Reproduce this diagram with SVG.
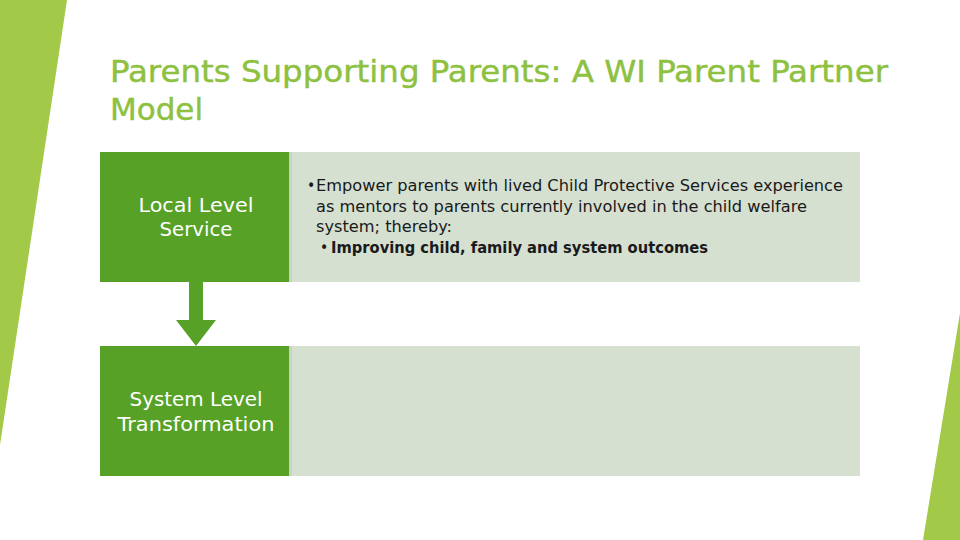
<svg xmlns="http://www.w3.org/2000/svg" width="960" height="540" viewBox="0 0 960 540">
<style>
.title{font-family:"DejaVu Sans Condensed","DejaVu Sans",sans-serif;font-size:31px;fill:#8DC13F;stroke:#8DC13F;stroke-width:0.4}
.lbl{font-family:"DejaVu Sans",sans-serif;font-size:19px;fill:#FFFFFF;text-anchor:middle}
.body{font-family:"DejaVu Sans Condensed","DejaVu Sans",sans-serif;font-size:15.5px;fill:#1A1A1A}
.green{fill:#57A127}
.light{fill:#D5E0D1}
.edge{fill:#C9D4C5}
</style>
<rect width="960" height="540" fill="#FFFFFF"/>
<polygon points="0,0 67,0 0,445" fill="#A2C947"/>
<polygon points="960,313 960,540 923,540" fill="#A2C947"/>
<text class="title" x="110" y="82" textLength="778" lengthAdjust="spacingAndGlyphs">Parents Supporting Parents: A WI Parent Partner</text>
<text class="title" x="110" y="120" textLength="93" lengthAdjust="spacingAndGlyphs">Model</text>
<g id="connectors">
<polygon class="green" points="189,282 203,282 203,320 216,320 196,346 176,320 189,320"/>
</g>
<g id="detail1">
<rect class="light" x="289" y="152" width="571" height="130"/>
<rect class="edge" x="289" y="152" width="3" height="130"/>
<text class="body" x="307" y="191">•</text>
<text class="body" x="316" y="191" textLength="527" lengthAdjust="spacingAndGlyphs">Empower parents with lived Child Protective Services experience</text>
<text class="body" x="316" y="212" textLength="491" lengthAdjust="spacingAndGlyphs">as mentors to parents currently involved in the child welfare</text>
<text class="body" x="316" y="232" textLength="136" lengthAdjust="spacingAndGlyphs">system; thereby:</text>
<text class="body" x="320" y="253">•</text>
<text class="body" x="331" y="253" font-weight="bold" textLength="377" lengthAdjust="spacingAndGlyphs">Improving child, family and system outcomes</text>
</g>
<g id="detail2">
<rect class="light" x="289" y="346" width="571" height="130"/>
<rect class="edge" x="289" y="346" width="3" height="130"/>
</g>
<g id="local">
<rect class="green" x="100" y="152" width="189" height="130"/>
<text class="lbl" x="196" y="212" textLength="115" lengthAdjust="spacingAndGlyphs">Local Level</text>
<text class="lbl" x="196" y="236" textLength="73" lengthAdjust="spacingAndGlyphs">Service</text>
</g>
<g id="system">
<rect class="green" x="100" y="346" width="189" height="130"/>
<text class="lbl" x="196" y="406" textLength="133" lengthAdjust="spacingAndGlyphs">System Level</text>
<text class="lbl" x="196" y="431" textLength="157" lengthAdjust="spacingAndGlyphs">Transformation</text>
</g>
</svg>
